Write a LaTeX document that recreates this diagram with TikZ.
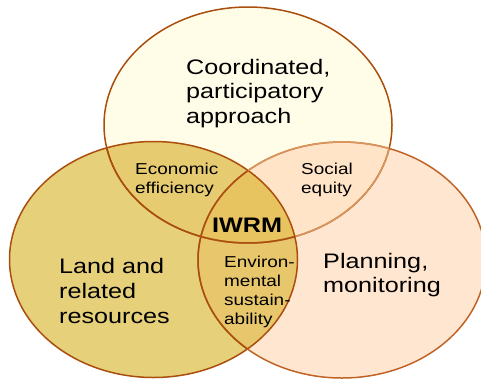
\documentclass[tikz,border=0pt]{standalone}
\usepackage{fontspec}
\setmainfont[FakeStretch=1.2]{Liberation Sans}
\usetikzlibrary{positioning}
\definecolor{topfill}{HTML}{FFFDE8}
\definecolor{leftfill}{HTML}{E6D07A}
\definecolor{rightfill}{HTML}{FFE6D0}
\definecolor{tlfill}{HTML}{E7CB70}
\definecolor{trfill}{HTML}{FFE4C8}
\definecolor{lrfill}{HTML}{E8C66C}
\definecolor{allfill}{HTML}{E8C460}
\definecolor{rimdark}{HTML}{A94E0C}
\definecolor{rimsoft}{HTML}{C06426}
\definecolor{rimfaint}{HTML}{D8965E}

\begin{document}
\begin{tikzpicture}[x=1pt,y=-1pt,
  venn/.style={x radius=144,y radius=118},
  edge/.style={rimdark,line width=1.5pt},
  soft/.style={rimsoft,line width=1.5pt},
  faint/.style={rimfaint,line width=1.5pt},
  big/.style={anchor=base west,inner sep=0pt,align=left,font=\fontsize{21}{24.8}\selectfont},
  small/.style={anchor=base west,inner sep=0pt,align=left,font=\fontsize{15.8}{19}\selectfont}]
\useasboundingbox (0,0) rectangle (481,378);
\coordinate (top) at (248,125);
\coordinate (left) at (153.5,259.5);
\coordinate (right) at (342,260);
% fills
\fill[topfill] (top) ellipse [venn];
\fill[leftfill] (left) ellipse [venn];
\fill[rightfill] (right) ellipse [venn];
\begin{scope}
\clip (top) ellipse [venn];
\fill[tlfill] (left) ellipse [venn];
\fill[trfill] (right) ellipse [venn];
\end{scope}
\begin{scope}
\clip (left) ellipse [venn];
\fill[lrfill] (right) ellipse [venn];
\clip (top) ellipse [venn];
\fill[allfill] (right) ellipse [venn];
\end{scope}
% rims
\draw[edge] (top) ellipse [venn];
\begin{scope}
\clip (right) ellipse [venn];
\draw[faint] (top) ellipse [venn];
\end{scope}
\begin{scope}
\clip (left) ellipse [venn];
\draw[edge] (top) ellipse [venn];
\end{scope}
\draw[edge] (left) ellipse [venn];
\draw[soft] (right) ellipse [venn];
\begin{scope}
\clip (top) ellipse [venn];
\draw[faint] (right) ellipse [venn];
\end{scope}
\begin{scope}
\clip (left) ellipse [venn];
\draw[edge] (right) ellipse [venn];
\end{scope}
% labels (placed by the baseline of their last line)
\node[big] (coord) at (186,123.6) {Coordinated,\\participatory\\approach};
\node[big] (land) at (59,323.4) {Land and\\related\\resources};
\node[big] (plan) at (323,292.8) {Planning,\\monitoring};
\node[small] (econ) at (135,193) {Economic\\efficiency};
\node[small] (soc) at (301,193) {Social\\equity};
\node[small] (env) at (224,324) {Environ-\\mental\\sustain-\\ability};
\node[anchor=base west,inner sep=0pt,font=\fontsize{21}{24}\selectfont\bfseries] (iwrm) at (212,232) {IWRM};
\end{tikzpicture}
\end{document}
